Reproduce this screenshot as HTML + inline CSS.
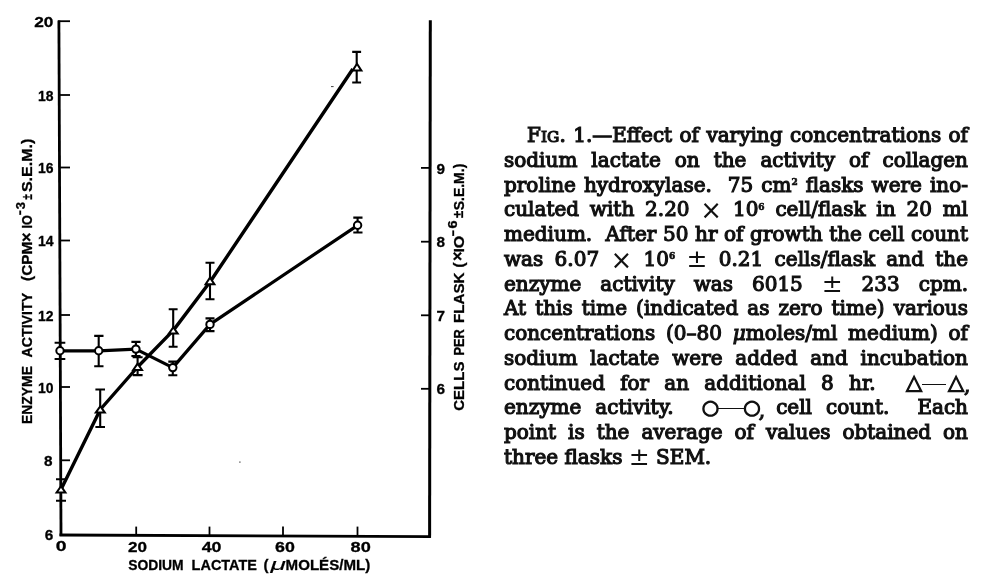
<!DOCTYPE html>
<html>
<head>
<meta charset="utf-8">
<style>
html,body{margin:0;padding:0;background:#fff;}
body{width:987px;height:584px;position:relative;overflow:hidden;}
svg{position:absolute;left:0;top:0;}
.cap{position:absolute;left:504px;width:464px;font-family:"DejaVu Serif","Liberation Serif",serif;font-size:20px;color:#111;-webkit-text-stroke:1.15px #111;white-space:nowrap;}
.ln{position:absolute;left:0;width:464px;height:25px;line-height:25px;text-align:justify;text-align-last:justify;white-space:normal;}
.sc{font-size:15.5px;}
.sym{display:inline-block;position:relative;height:10px;vertical-align:baseline;}
.sym>span{position:absolute;bottom:0;line-height:1;}
.tri{font-family:"DejaVu Sans",sans-serif;font-size:21px;bottom:-3px !important;}
.cir{font-family:"DejaVu Sans",sans-serif;font-size:20px;bottom:-2.2px !important;}
.cm{bottom:-5.5px !important;}
.dsh{height:1.4px;background:#111;}
sup{font-size:9px;font-weight:bold;vertical-align:0;position:relative;top:-6.8px;line-height:0;-webkit-text-stroke:0.6px #111;}
.op{font-family:"DejaVu Sans",sans-serif;font-size:26px;line-height:0;-webkit-text-stroke:0;vertical-align:-2.5px;}
.pm{font-family:"DejaVu Sans",sans-serif;font-size:25px;line-height:0;-webkit-text-stroke:0;vertical-align:-1px;}
</style>
</head>
<body>
<svg width="987" height="584" viewBox="0 0 987 584">
<g stroke="#000" fill="none" stroke-linecap="butt">
  <!-- axes -->
  <path d="M58.9 20.5 L61 536" stroke-width="2.8"/>
  <path d="M59.5 535 L430.8 536.6" stroke-width="2.8"/>
  <path d="M430.3 20.3 L429.6 537.8" stroke-width="3"/>
  <!-- left ticks -->
  <g stroke-width="1.8">
    <path d="M58 21.2 H70"/>
    <path d="M59 95 H70"/>
    <path d="M59 167.5 H70"/>
    <path d="M59.5 240.5 H70"/>
    <path d="M59.5 315 H70"/>
    <path d="M60 387 H70"/>
    <path d="M60 460.3 H70"/>
  </g>
  <!-- right ticks -->
  <g stroke-width="1.8">
    <path d="M421 167.9 H430"/>
    <path d="M421 241.7 H430"/>
    <path d="M421 315.3 H430"/>
    <path d="M421 388.8 H430"/>
  </g>
  <!-- bottom ticks -->
  <g stroke-width="1.8">
    <path d="M136.2 526.6 V535"/>
    <path d="M209.5 526.6 V535"/>
    <path d="M283 526.6 V535"/>
    <path d="M357.5 526.6 V535"/>
  </g>
  <!-- specks -->
  <rect x="331" y="86" width="2.6" height="1.1" fill="#555" stroke="none"/>
  <rect x="239.3" y="461.5" width="1.2" height="1.2" fill="#333" stroke="none"/>
  <!-- triangle series line -->
  <polyline stroke-width="3.4" stroke-linejoin="round" points="61,489.5 100.3,409.5 137.6,367 173.3,330.4 210.5,281.2 352.8,69"/>
  <!-- circle series line -->
  <polyline stroke-width="3.2" stroke-linejoin="round" points="60,350.8 98.7,350.8 135.9,349.1 172.8,367.6 210,324.4 357.6,225.3"/>
  <!-- error bars -->
  <g stroke-width="2.1">
    <!-- triangles -->
    <path d="M61 479.3 V500.7 M56 479.3 H66 M56 500.7 H66"/>
    <path d="M100.2 389.5 V427 M95.4 389.5 H105 M95.4 427 H105"/>
    <path d="M137.6 357.3 V375.1 M132.6 357.3 H142.6 M132.6 375.1 H142.6"/>
    <path d="M173.2 309.3 V346.7 M168.7 309.3 H177.6 M168.7 346.7 H177.6"/>
    <path d="M210 262.7 V299.2 M205.5 262.7 H214.5 M205.5 299.2 H214.5"/>
    <path d="M356.7 51.9 V82.5 M352.2 51.9 H361.1 M352.2 82.5 H361.1"/>
    <!-- circles -->
    <path d="M60 342.8 V359 M54.6 342.8 H65.3 M54.6 359 H65.3"/>
    <path d="M98.7 335.9 V366.2 M94.2 335.9 H103.5 M94.2 366.2 H103.5"/>
    <path d="M135.9 341.9 V356 M131.4 341.9 H140.6 M131.4 356 H140.6"/>
    <path d="M172.8 361.6 V375.3 M168.3 361.6 H177.3 M168.3 375.3 H177.3"/>
    <path d="M210 318.4 V331.1 M205.5 318.4 H214.5 M205.5 331.1 H214.5"/>
    <path d="M357.6 217.6 V232.5 M353.3 217.6 H362.5 M353.3 232.5 H362.5"/>
  </g>
  <!-- markers -->
  <g stroke-width="2" fill="#fff" stroke-linejoin="miter">
    <path d="M61 486.2 L65.4 492.4 L56.6 492.4 Z"/>
    <path d="M100.3 406.2 L104.8 412.6 L95.8 412.6 Z"/>
    <path d="M137.6 363.6 L142 370 L133.2 370 Z"/>
    <path d="M173.3 327.2 L177.7 333.6 L168.9 333.6 Z"/>
    <path d="M210 277.6 L214.4 284.2 L205.6 284.2 Z"/>
    <path d="M357 63.8 L361.4 70.6 L352.6 70.6 Z"/>
    <circle cx="60" cy="350.8" r="3.7"/>
    <circle cx="98.7" cy="350.8" r="3.7"/>
    <circle cx="135.9" cy="349.1" r="3.7"/>
    <circle cx="172.8" cy="367.6" r="3.7"/>
    <circle cx="210" cy="324.4" r="3.7"/>
    <circle cx="357.6" cy="225.3" r="3.7"/>
  </g>
</g>
<g font-family="Liberation Sans, sans-serif" font-weight="bold" font-size="15.3" fill="#000" stroke="#000" stroke-width="0.3">
  <!-- left tick labels -->
  <g text-anchor="end">
    <text x="53.4" y="26.7" textLength="19.2" lengthAdjust="spacingAndGlyphs">20</text>
    <text x="53.4" y="100.7" textLength="15.5" lengthAdjust="spacingAndGlyphs">18</text>
    <text x="53.4" y="173.2" textLength="15.5" lengthAdjust="spacingAndGlyphs">16</text>
    <text x="53.4" y="246.1" textLength="15.5" lengthAdjust="spacingAndGlyphs">14</text>
    <text x="53.4" y="320.5" textLength="15.5" lengthAdjust="spacingAndGlyphs">12</text>
    <text x="53.4" y="392.6" textLength="15.5" lengthAdjust="spacingAndGlyphs">10</text>
    <text x="52.5" y="465.6">8</text>
    <text x="53.2" y="539.5">6</text>
  </g>
  <!-- right tick labels -->
  <g text-anchor="start">
    <text x="436.6" y="173.5">9</text>
    <text x="436.6" y="247.2">8</text>
    <text x="436.6" y="320.8">7</text>
    <text x="436.6" y="394.3">6</text>
  </g>
  <!-- bottom tick labels -->
  <g text-anchor="middle">
    <text x="61.2" y="550.8" textLength="10.8" lengthAdjust="spacingAndGlyphs">0</text>
    <text x="137.5" y="551.8" textLength="19" lengthAdjust="spacingAndGlyphs">20</text>
    <text x="211.6" y="551.8" textLength="19.8" lengthAdjust="spacingAndGlyphs">40</text>
    <text x="284.9" y="551.8" textLength="19.8" lengthAdjust="spacingAndGlyphs">60</text>
    <text x="360.7" y="551.8" textLength="20.2" lengthAdjust="spacingAndGlyphs">80</text>
  </g>
</g>
<g font-family="Liberation Sans, sans-serif" font-weight="bold" font-size="15.2" fill="#000" stroke="#000" stroke-width="0.3">
  <!-- x label -->
  <text y="569.8"><tspan x="128.2" textLength="55.4" lengthAdjust="spacingAndGlyphs">SODIUM</tspan> <tspan x="191.6" textLength="65.4" lengthAdjust="spacingAndGlyphs">LACTATE</tspan> <tspan x="263.6" font-size="15">(</tspan><tspan x="270.5" font-style="italic" font-weight="normal" font-size="17" stroke-width="0.1" textLength="15.5" lengthAdjust="spacingAndGlyphs">μ</tspan><tspan x="285.6" textLength="84.6" lengthAdjust="spacingAndGlyphs">MOLÉS/ML)</tspan></text>
<g transform="translate(32.4,423.3) rotate(-90)">
  <text x="-0.6" y="0" textLength="57.8" lengthAdjust="spacingAndGlyphs">ENZYME</text>
  <text x="65.9" y="0" textLength="64.5" lengthAdjust="spacingAndGlyphs">ACTIVITY</text>
  <text x="142.4" y="0" textLength="39.2" lengthAdjust="spacingAndGlyphs">(CPM</text>
  <text x="181.2" y="-0.8" font-size="16">×</text>
  <text x="194.7" y="0" textLength="13.4" lengthAdjust="spacingAndGlyphs">IO</text>
  <text x="207.8" y="-8" textLength="5.5" lengthAdjust="spacingAndGlyphs" font-size="13">-</text>
  <text x="214.1" y="-7.9" textLength="7.3" lengthAdjust="spacingAndGlyphs" font-size="13.5">3</text>
  <text x="223.6" y="-0.6" textLength="5.6" lengthAdjust="spacingAndGlyphs" font-size="14">±</text>
  <text x="231.2" y="0" textLength="53.5" lengthAdjust="spacingAndGlyphs">S.E.M.)</text>
</g>
<g transform="translate(463.8,410.1) rotate(-90)">
  <text x="-0.6" y="0" textLength="49.1" lengthAdjust="spacingAndGlyphs">CELLS</text>
  <text x="54.6" y="0" textLength="26.4" lengthAdjust="spacingAndGlyphs">PER</text>
  <text x="87.0" y="0" textLength="50.6" lengthAdjust="spacingAndGlyphs">FLASK</text>
  <text x="142.6" y="0">(</text>
  <text x="149" y="-0.4" font-size="16">×</text>
  <text x="157.5" y="0" textLength="16.9" lengthAdjust="spacingAndGlyphs">IO</text>
  <text x="173.6" y="-6.5" textLength="6.5" lengthAdjust="spacingAndGlyphs" font-size="13">-</text>
  <text x="181.7" y="-6.4" textLength="8.1" lengthAdjust="spacingAndGlyphs" font-size="12.5">6</text>
  <text x="192.0" y="-0.4" textLength="7.2" lengthAdjust="spacingAndGlyphs" font-size="14">±</text>
  <text x="199.8" y="0" textLength="46.6" lengthAdjust="spacingAndGlyphs">S.E.M.)</text>
</g>
</g>
</svg>
<div class="cap">
  <div class="ln" style="top:123.2px;left:23px;width:441px">F<span class="sc">IG</span>. 1.—Effect of varying concentrations of</div>
  <div class="ln" style="top:147.95px">sodium lactate on the activity of collagen</div>
  <div class="ln" style="top:172.7px">proline hydroxylase.&nbsp; 75 cm<sup>2</sup> flasks were ino-</div>
  <div class="ln" style="top:197.45px">culated with 2.20 <span class="op">×</span> 10<sup>6</sup> cell/flask in 20 ml</div>
  <div class="ln" style="top:222.2px">medium.&nbsp; After 50 hr of growth the cell count</div>
  <div class="ln" style="top:246.95px">was 6.07 <span class="op">×</span> 10<sup>6</sup> <span class="pm">±</span> 0.21 cells/flask and the</div>
  <div class="ln" style="top:271.7px">enzyme activity was 6015 <span class="pm">±</span> 233 cpm.</div>
  <div class="ln" style="top:296.45px">At this time (indicated as zero time) various</div>
  <div class="ln" style="top:321.2px">concentrations (0–80 <i>μ</i>moles/ml medium) of</div>
  <div class="ln" style="top:345.95px">sodium lactate were added and incubation</div>
  <div class="ln" style="top:370.7px">continued for an additional 8 hr.&nbsp; <span class="sym" style="width:62px"><span class="tri" style="left:0">△</span><span class="dsh" style="left:16px;width:24px;top:4px"></span><span class="tri" style="left:42px">△</span><span class="cm" style="left:58px">,</span></span></div>
  <div class="ln" style="top:395.45px">enzyme activity.&nbsp; <span class="sym" style="width:60.5px"><span class="cir" style="left:0">○</span><span class="dsh" style="left:15px;width:27px;top:3.6px"></span><span class="cir" style="left:41.5px">○</span><span class="cm" style="left:57px">,</span></span> cell count.&nbsp; Each</div>
  <div class="ln" style="top:420.2px">point is the average of values obtained on</div>
  <div class="ln" style="top:444.95px;text-align-last:left">three flasks <span class="pm">±</span> SEM.</div>
</div>
</body>
</html>
